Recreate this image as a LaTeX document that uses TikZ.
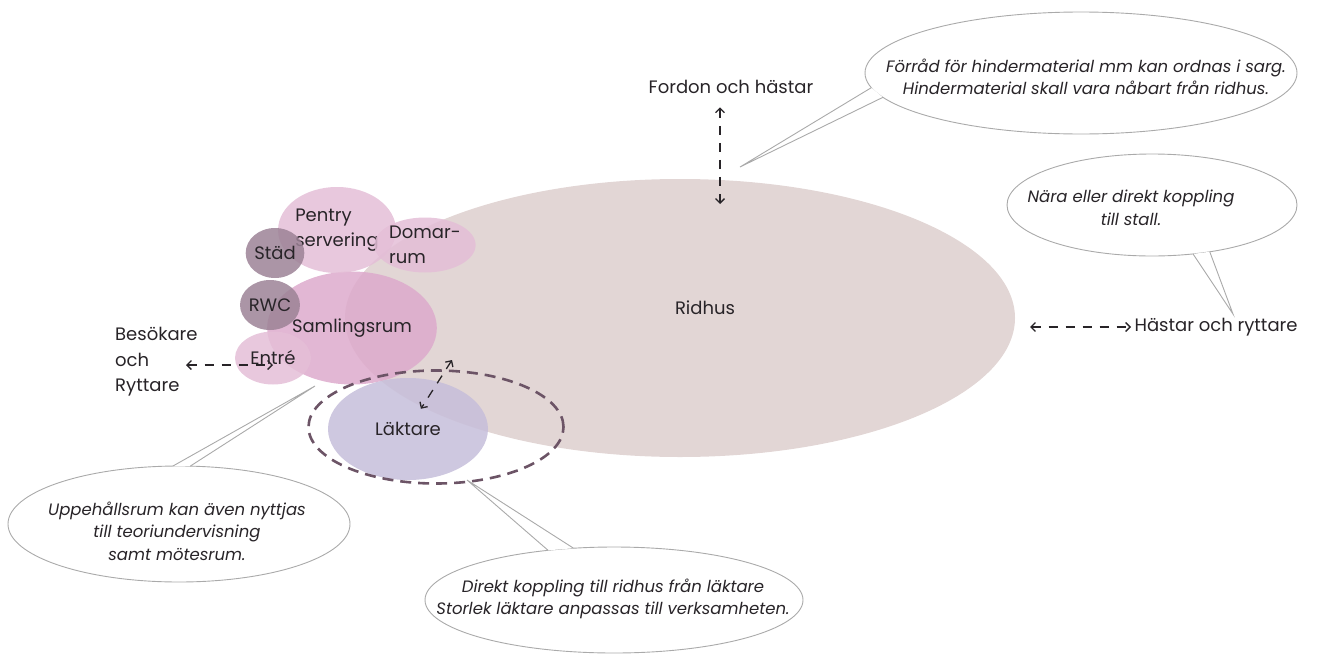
\documentclass[tikz,border=0pt]{standalone}
\usepackage{fontspec}
\setmainfont{Poppins}
\usetikzlibrary{arrows.meta, shapes.geometric, positioning}

\definecolor{ridhusfill}{RGB}{226,214,213}
\definecolor{roomfill}{RGB}{228,190,215}
\definecolor{samlingfill}{RGB}{221,170,204}
\definecolor{duskfill}{RGB}{156,130,150}
\definecolor{laktarefill}{RGB}{198,190,218}
\definecolor{dashcol}{RGB}{108,84,102}
\definecolor{notegray}{RGB}{170,170,170}
\definecolor{inktext}{RGB}{40,36,40}

\begin{document}
\begin{tikzpicture}[x=1pt,y=-1pt,font=\fontsize{18}{25.5}\selectfont,text=inktext,>={Straight Barb[length=4.5pt,width=9pt]}]

	\tikzset{room/.style={ellipse, draw=none, inner sep=0pt, outer sep=0pt,
			fill opacity=0.85, text opacity=1, align=left}}
	\tikzset{note/.style={ellipse, draw=notegray, line width=0.9pt, fill=white,
			inner sep=0pt, outer sep=0pt}}
	\tikzset{note text/.style={align=center, inner sep=0pt,
			font=\fontsize{16.5}{22.5}\selectfont\itshape}}
	\tikzset{tail/.style={draw=notegray, line width=0.9pt, fill=white}}
	\tikzset{flow/.style={<->, draw=inktext, line width=1.3pt,
			dash pattern=on 9pt off 8pt}}

	\useasboundingbox (0,0) rectangle (1317,656);

	% rooms
	\node[room, fill=ridhusfill, fill opacity=1, minimum width=670pt, minimum height=278pt] (ridhus) at (680,318) {};
	\node (ridhustxt) at (705,308) {Ridhus};
	\node[room, fill=samlingfill, minimum width=123pt, minimum height=113pt] (samling) at (352,328) {Samlingsrum};
	\node[room, fill=roomfill, minimum width=76pt, minimum height=53pt] (entre) at (273,358) {Entré};
	\node[room, fill=duskfill, minimum width=54pt, minimum height=50pt] (rwc) at (270,305) {RWC};
	\node[room, fill=roomfill, minimum width=104pt, minimum height=86pt] (pentry) at (337,230) {Pentry\\servering};
	\node[room, fill=duskfill, minimum width=55pt, minimum height=50pt] (stad) at (275,253) {Städ};
	\node[room, fill=roomfill, minimum width=80pt, minimum height=55pt] (domar) at (425,245) {Domar-\\rum};
	\node[room, fill=laktarefill, minimum width=160pt, minimum height=102pt] (laktare) at (408,429) {Läktare};
	\node[ellipse, draw=dashcol, line width=2.6pt, dash pattern=on 11pt off 7pt,
		minimum width=255pt, minimum height=113pt] (laktring) at (436,427) {};

	% flows
	\node (fordon) at (731,87) {Fordon och hästar};
	\node[anchor=west] (hastar) at (1131,327) {Hästar och ryttare};
	\node[anchor=west, align=left, inner sep=0pt] (besok) at (115,362) {Besökare\\och\\Ryttare};

	\coordinate (fordonin) at (720,204);
	\coordinate (hastin) at (1030,327);
	\coordinate (besokut) at (186,365);
	\coordinate (laktarein) at (452,360);

	\draw[flow, shorten <=10pt] (fordon.south -| fordonin) -- (fordonin);
	\draw[flow] (hastin) -- (hastar.west);
	\draw[flow] (besokut) -- (besokut -| entre);
	\draw[flow, shorten >=24pt] (laktarein) -- (laktare.center);

	% notes
	\node[note, minimum width=432pt, minimum height=122pt] (hindernote) at (1081,73) {};
	\node[note, minimum width=290pt, minimum height=102pt] (stallnote) at (1152,205) {};
	\node[note, minimum width=342pt, minimum height=116pt] (uppnote) at (179,524) {};
	\node[note, minimum width=378pt, minimum height=106pt] (laknote) at (614,600) {};

	\coordinate (hindertip) at (740,167);
	\coordinate (stalltip) at (1233,314);
	\coordinate (upptip) at (315,386);
	\coordinate (laktip) at (467,480);

	\filldraw[tail] (hindernote.184) -- (hindertip) -- (hindernote.187);
	\filldraw[tail] (stallnote.310) -- (stalltip) -- (stallnote.321);
	\filldraw[tail] (uppnote.79) -- (upptip) -- (uppnote.96);
	\filldraw[tail] (laknote.128) -- (laktip) -- (laknote.143);

	\node[note text] (hindertext) at (1086,77)
		{Förråd för hindermaterial mm kan ordnas i sarg.\\Hindermaterial skall vara nåbart från ridhus.};
	\node[note text] (stalltext) at (1131,208) {Nära eller direkt koppling\\till stall.};
	\node[note text] (upptext) at (177,531)
		{Uppehållsrum kan även nyttjas\\till teoriundervisning\\samt mötesrum.};
	\node[note text] (laktext) at (613,599)
		{Direkt koppling till ridhus från läktare\\Storlek läktare anpassas till verksamheten.};
\end{tikzpicture}
\end{document}
